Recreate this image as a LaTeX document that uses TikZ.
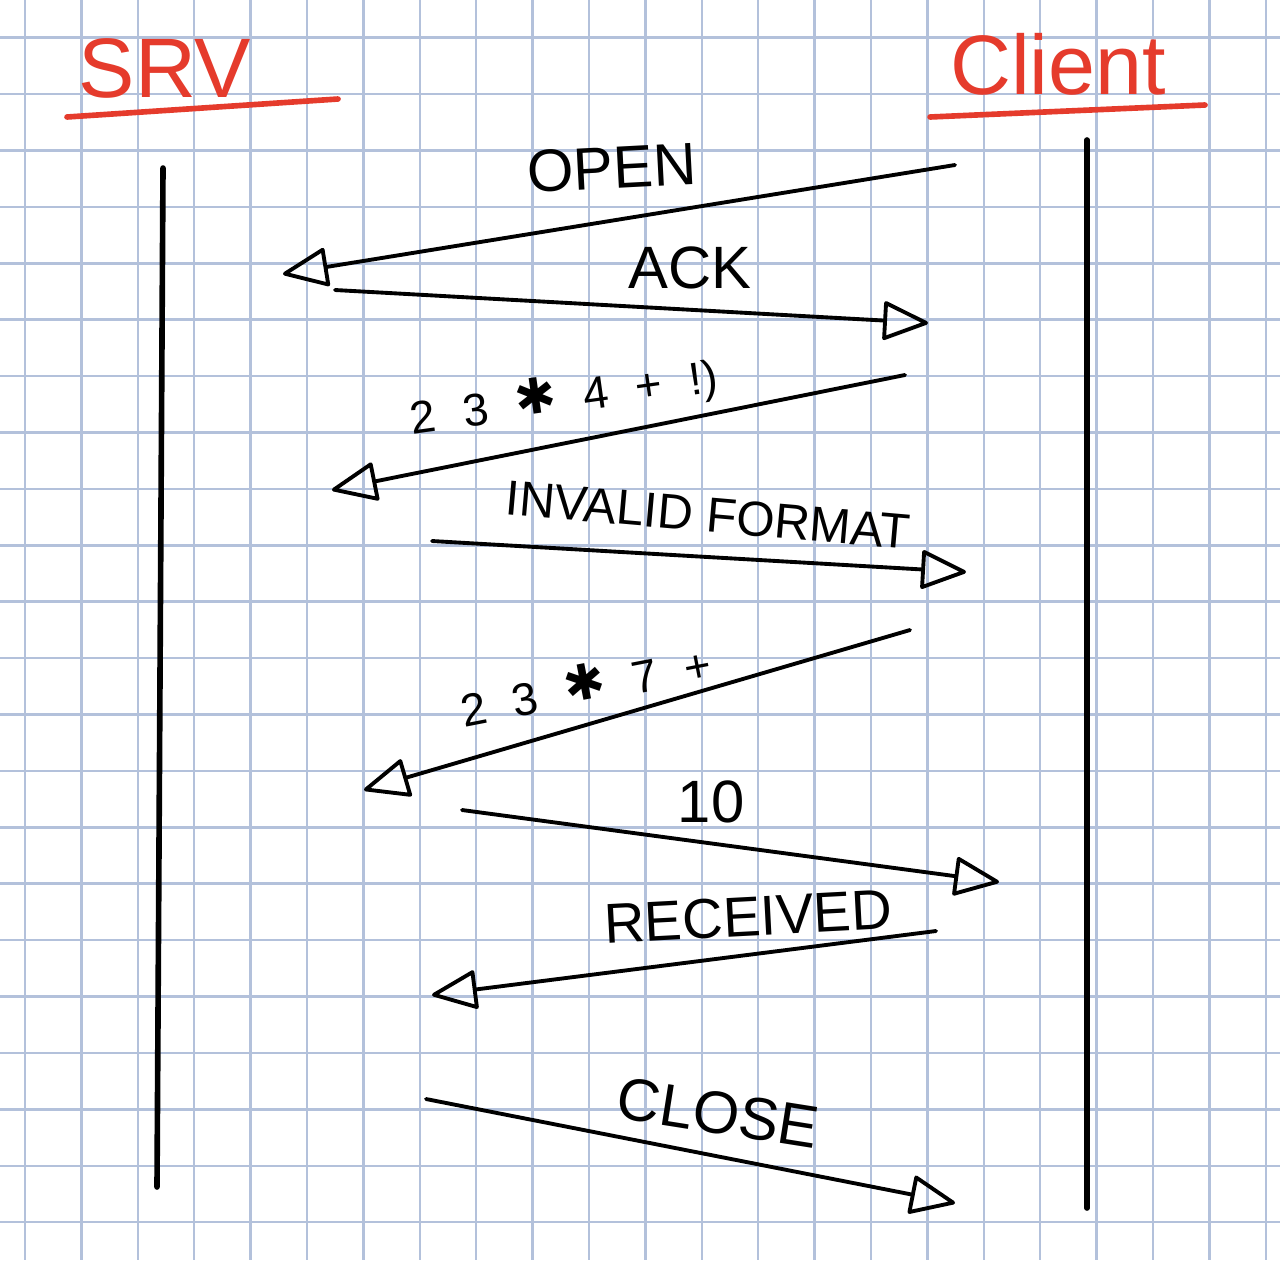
\documentclass[tikz,border=0pt]{standalone}
\usepackage{fontspec}
\setmainfont{Liberation Sans}
\newfontfamily\symfont{DejaVu Sans}
\usetikzlibrary{arrows.meta}
\definecolor{penred}{HTML}{E53B2C}
\definecolor{gridblue}{HTML}{B3C1DB}
\newcommand{\tokgap}{\hspace{0.6em}}
\newcommand{\bigstar}{\raisebox{1pt}{\symfont\fontsize{14}{14}\selectfont ✱}}

\begin{document}
\begin{tikzpicture}[x=0.01cm, y=-0.01cm,
    gridline/.style={gridblue, line width=0.7pt},
    lifeline/.style={line width=1.6pt, line cap=round},
    msg/.style={line width=1.1pt, line cap=round, line join=round,
        -{Triangle[open, round, length=0.48cm, width=0.4cm, line width=1.1pt]}},
    lbl/.style={font=\fontsize{17}{20}\selectfont, inner sep=0pt},
    smalllbl/.style={font=\fontsize{13}{16}\selectfont, inner sep=0pt},
    title/.style={text=penred, font=\fontsize{24}{28}\selectfont, inner sep=0pt},
    uline/.style={penred, line width=1.6pt, line cap=round}]
                    % paper
                    \fill[white] (0,0) rectangle (1280,1260);
                    \useasboundingbox (0,0) rectangle (1280,1260);
                    \foreach \i in {0,...,22}
                        \draw[gridline] ({25+56.4*\i},0) -- ({25+56.4*\i},1260);
                    \foreach \j in {0,...,21}
                        \draw[gridline] (0,{37.7+56.4*\j}) -- (1280,{37.7+56.4*\j});
                    % headers
                    \node[title] (srv) at (165,68) {SRV};
                    \coordinate (srvulA) at (67,117);
                    \coordinate (srvulB) at (338,99);
                    \draw[uline] (srvulA) -- (srvulB);
                    \node[title] (client) at (1058,64) {Client};
                    \coordinate (cliulA) at (930,117);
                    \coordinate (cliulB) at (1205,105);
                    \draw[uline] (cliulA) -- (cliulB);
                    % lifelines
                    \coordinate (srvtop) at (163,168);
                    \coordinate (srvbot) at (157,1187);
                    \draw[lifeline] (srvtop) -- (srvbot);
                    \coordinate (clitop) at (1087,140);
                    \coordinate (clibot) at (1087,1208);
                    \draw[lifeline] (clitop) -- (clibot);
                    % messages
                    \coordinate (openA) at (955,165);
                    \coordinate (openB) at (283,274);
                    \draw[msg] (openA) -- (openB);
                    \node[lbl, rotate=3] (openlbl) at (612,168) {OPEN};
                    \coordinate (ackA) at (335,290);
                    \coordinate (ackB) at (928,323);
                    \draw[msg] (ackA) -- (ackB);
                    \node[lbl] (acklbl) at (690,268) {ACK};
                    \coordinate (exprA) at (905,375);
                    \coordinate (exprB) at (332,490);
                    \draw[msg] (exprA) -- (exprB);
                    \node[smalllbl, rotate=8] (exprlbl) at (564,398)
                        {2\tokgap 3\tokgap\bigstar\tokgap 4\tokgap +\tokgap !)};
                    \coordinate (invA) at (432,541);
                    \coordinate (invB) at (966,572);
                    \draw[msg] (invA) -- (invB);
                    \node[lbl, rotate=-5, font=\fontsize{14}{17}\selectfont] (invlbl) at (708,515) {INVALID FORMAT};
                    \coordinate (expr2A) at (910,630);
                    \coordinate (expr2B) at (364,790);
                    \draw[msg] (expr2A) -- (expr2B);
                    \node[smalllbl, rotate=11] (expr2lbl) at (585,684)
                        {2\tokgap 3\tokgap\bigstar\tokgap 7\tokgap +};
                    \coordinate (resA) at (462,810);
                    \coordinate (resB) at (999,882);
                    \draw[msg] (resA) -- (resB);
                    \node[lbl] (reslbl) at (711,802) {10};
                    \coordinate (recvA) at (936,931);
                    \coordinate (recvB) at (432,995);
                    \draw[msg] (recvA) -- (recvB);
                    \node[lbl, rotate=3, font=\fontsize{16}{19}\selectfont] (recvlbl) at (748,917) {RECEIVED};
                    \coordinate (closeA) at (426,1099);
                    \coordinate (closeB) at (955,1203);
                    \draw[msg] (closeA) -- (closeB);
                    \node[lbl, rotate=-9] (closelbl) at (718,1113) {CLOSE};
                \end{tikzpicture}
\end{document}
